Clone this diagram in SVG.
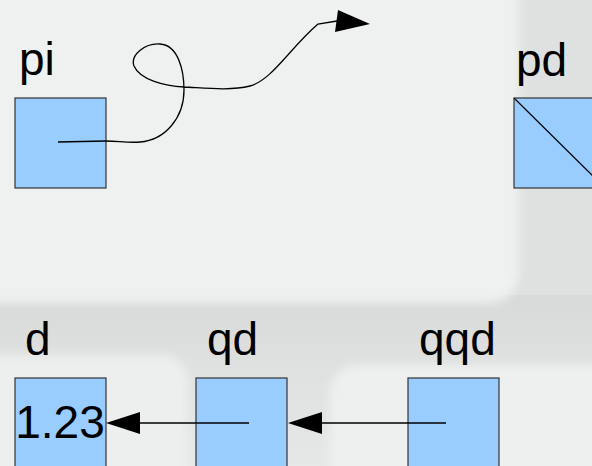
<svg xmlns="http://www.w3.org/2000/svg" width="592" height="466" viewBox="0 0 592 466">
<defs>
<style>
.box{fill:#99ccff;stroke:#333333;stroke-width:1.2}
.lbl{font-family:"Liberation Sans",Arial,sans-serif;font-size:46px;fill:#000}
.ln{fill:none;stroke:#000;stroke-width:1.3}
.head{fill:#000;stroke:none}
</style>
<filter id="soft" x="-20%" y="-20%" width="140%" height="140%"><feGaussianBlur stdDeviation="5"/></filter>
<linearGradient id="band" x1="0" y1="0" x2="0" y2="1">
<stop offset="0" stop-color="#d8d9d9"/>
<stop offset="0.35" stop-color="#dedfdf"/>
<stop offset="1" stop-color="#e6e7e7"/>
</linearGradient>
</defs>
<g id="background">
<rect x="0" y="0" width="592" height="466" fill="#dfe0e0"/>
<rect x="0" y="295" width="592" height="171" fill="url(#band)"/>
<rect x="-40" y="-40" width="559" height="343" rx="30" fill="#eff1f0" filter="url(#soft)"/>
<rect x="-40" y="355" width="228" height="160" rx="26" fill="#edefef" filter="url(#soft)"/>
<rect x="330" y="365" width="300" height="160" rx="28" fill="#eef0f0" filter="url(#soft)"/>
</g>
<g id="node-pi">
<rect class="box" x="15" y="98" width="91" height="90"/>
<text class="lbl" x="19" y="75">pi</text>
</g>
<g id="node-pd">
<rect class="box" x="514" y="98" width="91" height="90"/>
<line x1="514" y1="98" x2="605" y2="188" stroke="#000" stroke-width="1.2"/>
<text class="lbl" x="516" y="76">pd</text>
</g>
<g id="node-d">
<rect class="box" x="15" y="378" width="91" height="100"/>
<text class="lbl" x="25" y="355">d</text>
<text class="lbl" x="60" y="438" text-anchor="middle">1.23</text>
</g>
<g id="node-qd">
<rect class="box" x="196" y="378" width="91" height="100"/>
<text class="lbl" x="207" y="355">qd</text>
</g>
<g id="node-qqd">
<rect class="box" x="408" y="378" width="91" height="100"/>
<text class="lbl" x="419" y="355">qqd</text>
</g>
<g id="connectors">
<path class="ln" d="M58,142 L106,141 C118,141 128,143 140,142 C165,140 184,118 184,90 C184,70 178,45 160,44 C145,43 130,55 134,66 C140,80 165,86 184,87 C205,88 230,91 250,86 C272,80 290,48 318,24 L337,21"/>
<polygon class="head" points="370,24 338,10 335,32"/>
<line class="ln" x1="249" y1="423" x2="130" y2="423"/>
<polygon class="head" points="106,423 140,412 140,434"/>
<line class="ln" x1="446" y1="423" x2="312" y2="423"/>
<polygon class="head" points="288,423 322,412 322,434"/>
</g>
</svg>
